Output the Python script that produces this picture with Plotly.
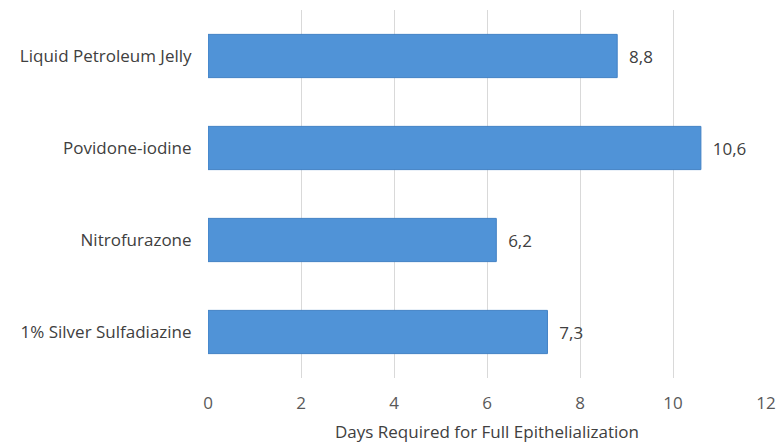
import plotly.graph_objects as go

categories = ["1% Silver Sulfadiazine", "Nitrofurazone", "Povidone-iodine", "Liquid Petroleum Jelly"]
days = [7.3, 6.2, 10.6, 8.8]
x_ticks = [0, 2, 4, 6, 8, 10, 12]

FONT = "Open Sans"
fig = go.Figure()
fig.add_trace(go.Bar(
    y=categories, x=days, orientation="h",
    marker=dict(color="#5093d7", line=dict(color="#4080c4", width=1)),
    texttemplate="  %{x:.1f}", textposition="outside",
    textfont=dict(family=FONT, size=17, color="#404040"),
    cliponaxis=False, width=0.47,
))
fig.update_layout(
    width=777, height=443,
    margin=dict(l=208, r=11, t=10, b=65, autoexpand=False),
    paper_bgcolor="white", plot_bgcolor="white",
    separators=",.",
    showlegend=False,
    font=dict(family=FONT, size=17, color="#404040"),
    xaxis=dict(range=[0, 12], tickvals=x_ticks, showgrid=True, gridcolor="#d9d9d9", gridwidth=1,
               zeroline=False, showline=False, ticks="outside", ticklen=10, tickcolor="white",
               automargin=False,
               tickfont=dict(family=FONT, size=17, color="#595959"),
               title=dict(text="Days Required for Full Epithelialization",
                          font=dict(family=FONT, size=17, color="#404040"), standoff=14)),
    yaxis=dict(showgrid=False, zeroline=False, showline=False, ticks="outside", ticklen=12,
               tickcolor="white", automargin=False,
               tickfont=dict(family=FONT, size=17, color="#404040")),
)
fig.write_html("out.html")
